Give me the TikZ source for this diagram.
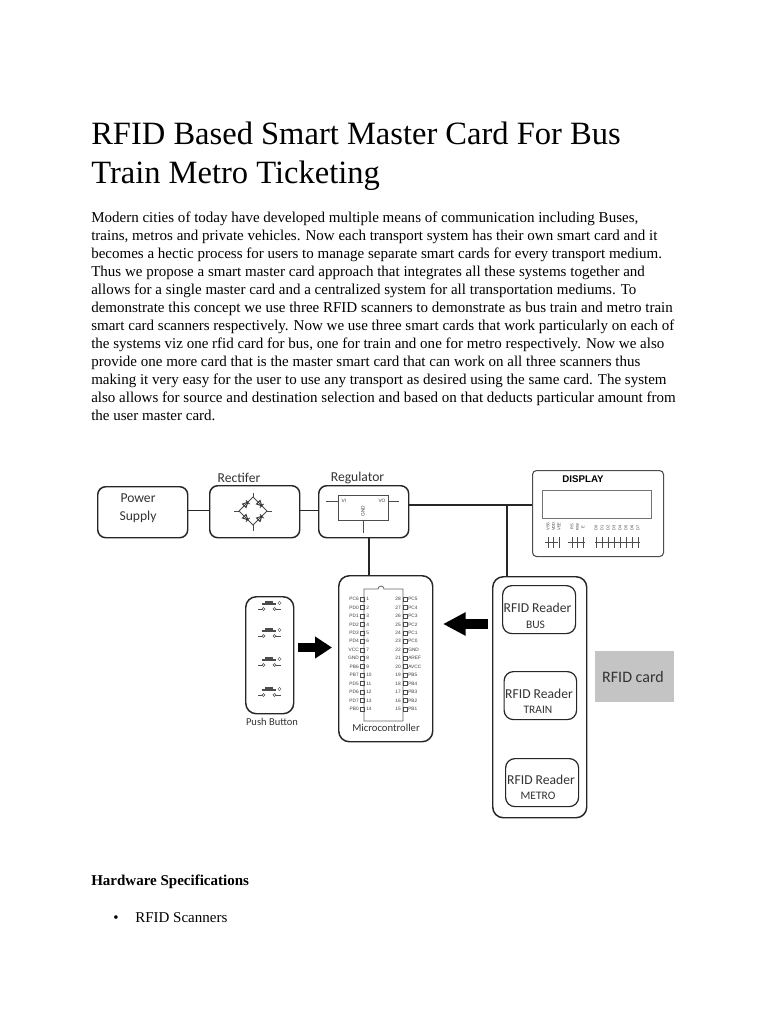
\documentclass[tikz,border=0pt]{standalone}
\usepackage{fontspec}
\setmainfont{Liberation Serif}
\newfontfamily\lab{Carlito}
\newfontfamily\ari{Liberation Sans}
\usetikzlibrary{arrows.meta}
\tikzset{
 x=.75pt,y=-.75pt,
 bodyline/.style={anchor=base west,inner sep=0pt,font=\fontsize{11.26}{13}\selectfont},
 titleline/.style={anchor=base west,inner sep=0pt,font=\fontsize{24.4}{30}\selectfont},
 box/.style={draw=black!85,line width=1.1pt,rounded corners=6pt,inner sep=0pt},
 wire/.style={draw=black!85,line width=1.1pt},
 thin1/.style={draw=black!70,line width=.4pt},
 lbl/.style={font=\lab\fontsize{10.2}{12}\selectfont,text=black!80,inner sep=0pt,align=center},
 sub/.style={font=\lab\fontsize{8.6}{10}\selectfont,text=black!80,inner sep=0pt},
 pin/.style={font=\ari\fontsize{3.6}{4}\selectfont,text=black!75,inner sep=0pt},
 blockarrow/.style={line width=#1*.75pt,-{Triangle[length=17*.75pt,width=21*.75pt]}},
}
\newcommand{\boxat}[6]{\node[box,#6,minimum width=(#4-#2)*.75pt,minimum height=(#5-#3)*.75pt,anchor=north west] (#1) at (#2,#3) {};}
\begin{document}
\begin{tikzpicture}
\useasboundingbox[fill=white] (0,0) rectangle (768,1024);
% page text
\node[titleline] (t1) at (91,144) {RFID Based Smart Master Card For Bus};
\node[titleline] (t2) at (91,183) {Train Metro Ticketing};
\node[bodyline] (b1) at (91,222) {Modern cities of today have developed multiple means of communication including Buses,};
\node[bodyline] (b2) at (91,240) {trains, metros and private vehicles. Now each transport system has their own smart card and it};
\node[bodyline] (b3) at (91,258.5) {becomes a hectic process for users to manage separate smart cards for every transport medium.};
\node[bodyline] (b4) at (91,276.5) {Thus we propose a smart master card approach that integrates all these systems together and};
\node[bodyline] (b5) at (91,294.5) {allows for a single master card and a centralized system for all transportation mediums. To};
\node[bodyline] (b6) at (91,312.5) {demonstrate this concept we use three RFID scanners to demonstrate as bus train and metro train};
\node[bodyline] (b7) at (91,330) {smart card scanners respectively. Now we use three smart cards that work particularly on each of};
\node[bodyline] (b8) at (91,348) {the systems viz one rfid card for bus, one for train and one for metro respectively. Now we also};
\node[bodyline] (b9) at (91,366) {provide one more card that is the master smart card that can work on all three scanners thus};
\node[bodyline] (b10) at (91,384.5) {making it very easy for the user to use any transport as desired using the same card. The system};
\node[bodyline] (b11) at (91,402.5) {also allows for source and destination selection and based on that deducts particular amount from};
\node[bodyline] (b12) at (91,420.5) {the user master card.};
\node[bodyline,font=\fontsize{11.26}{13}\selectfont\bfseries] (h1) at (91,885) {Hardware Specifications};
\node[bodyline] (bu) at (113,922) {•};
\node[bodyline] (s1) at (135,922) {RFID Scanners};
% boxes
\boxat{ps}{97}{486}{187}{537}{}
\boxat{rc}{209}{485}{299}{537}{}
\boxat{rg}{318}{485}{408}{537}{}
\boxat{pb}{245}{596}{293}{713}{rounded corners=8pt}
\boxat{mc}{338}{575}{432}{741}{rounded corners=8pt}
\boxat{rf}{492}{576}{586}{817}{rounded corners=8pt}
\boxat{r1}{502}{585}{575}{633}{rounded corners=7pt,line width=.9pt}
\boxat{r2}{503.5}{671}{576}{719}{rounded corners=7pt,line width=.9pt}
\boxat{r3}{505}{758}{578}{806}{rounded corners=7pt,line width=.9pt}
\boxat{ds}{532}{470}{663}{556}{rounded corners=3pt,line width=.8pt,draw=black!70}
\node[fill=black!23,minimum width=79*.75pt,minimum height=51*.75pt,inner sep=0pt,anchor=north west] (cd) at (594.5,651) {};
\node[lbl,font=\lab\fontsize{12}{14}\selectfont] (cdt) at (633,677) {RFID card};
% labels
\node[lbl] (pst) at (138,508.5) {Power\\[1.5pt]Supply};
\node[lbl] (rct) at (239,478) {Rectifer};
\node[lbl] (rgt) at (357.5,478) {Regulator};
\node[sub,font=\lab\fontsize{7.9}{9}\selectfont] (pbt) at (272,722) {Push Button};
\node[lbl,font=\lab\fontsize{8}{9}\selectfont] (mct) at (386,727.5) {Microcontroller};
\node[lbl] (r1a) at (537.5,607.5) {RFID Reader};
\node[sub] (r1b) at (535.5,624.5) {BUS};
\node[lbl] (r2a) at (539,693.5) {RFID Reader};
\node[sub] (r2b) at (538,709.5) {TRAIN};
\node[lbl] (r3a) at (541,780) {RFID Reader};
\node[sub] (r3b) at (538,795.5) {METRO};
\node[font=\ari\bfseries\fontsize{7.3}{8}\selectfont,inner sep=0pt] (dst) at (583,479.5) {DISPLAY};
% connectors
\draw[wire] (ps.east |- 0,510.5) -- (rc.west |- 0,510.5);
\draw[wire] (rc.east |- 0,510.5) -- (rg.west |- 0,510.5);
\coordinate (j1) at (408,505);
\coordinate (j2) at (532,505);
\coordinate (j3) at (507,505);
\coordinate (j4) at (369,537);
\draw[wire] (j1) -- (j2);
\draw[wire] (j3) -- (j3 |- rf.north);
\draw[wire] (j4) -- (j4 |- mc.north);
\coordinate (a1) at (298,647.5);
\coordinate (a2) at (332,647.5);
\coordinate (a3) at (488,624);
\coordinate (a4) at (443,624);
\draw[blockarrow=9] (a1) -- (a2);
\draw[line width=8.2pt,-{Triangle[length=17pt,width=16.5pt]}] (a3) -- (a4);
% regulator symbol
\draw[thin1,line width=.7pt] (338,495) rectangle (388,520);
\draw[thin1,line width=.7pt] (326,501) -- (338,501) (388,501) -- (399,501) (363,520) -- (363,533);
\node[pin] (rvi) at (344,501) {VI};
\node[pin] (rvo) at (382,501) {VO};
\node[pin,rotate=90] (rgn) at (363,511) {GND};
% bridge
\draw[thin1,line width=.6pt] (253,497) -- (267,511) -- (253,525) -- (239,511) -- cycle;
\draw[thin1,line width=.6pt] (253,493) -- (253,497) (253,525) -- (253,531) (239,511) -- (234,511) (267,511) -- (272,511);
\foreach \cx/\cy/\rr in {246/504/45,260/504/-45,246/518/-45,260/518/45}{
 \draw[draw=black!80,line width=.7pt,rotate around={\rr:(\cx,\cy)}] (\cx-2.5,\cy-2.5) -- (\cx-2.5,\cy+2.5) -- (\cx+2.5,\cy) -- cycle (\cx+2.5,\cy-2.5) -- (\cx+2.5,\cy+2.5);
}
% display inner
\draw[draw=black!55,line width=.7pt] (542,490) rectangle (651,518);
\foreach \i/\t in {0/VSS,1/VDD,2/VEE}{ \node[pin,rotate=90,font=\ari\fontsize{3}{3}\selectfont] (da\i) at (548+\i*5.5,526.5) {\t}; }
\foreach \i/\t in {0/RS,1/RW,2/E}{ \node[pin,rotate=90,font=\ari\fontsize{3}{3}\selectfont] (db\i) at (572+\i*5.5,527) {\t}; }
\foreach \i/\t in {0/D0,1/D1,2/D2,3/D3,4/D4,5/D5,6/D6,7/D7}{ \node[pin,rotate=90,font=\ari\fontsize{3}{3}\selectfont] (dc\i) at (596+\i*6,528) {\t}; }
\draw[thin1] (545,542) -- (558,542) (568,542) -- (585,542) (595,542) -- (640,542);
\foreach \x in {548,553.5,559}{\draw[thin1] (\x,537) -- (\x,548);}
\foreach \x in {572,577.5,583}{\draw[thin1] (\x,537) -- (\x,548);}
\foreach \i in {0,...,7}{\draw[thin1] (596+\i*6,537) -- (596+\i*6,548);}
% IC
\draw[draw=black!60,line width=.6pt] (364,589) -- (378,589) arc[start angle=180,end angle=360,radius=3] -- (403,589) -- (403,721) -- (364,721) -- cycle;
\foreach \n/\l/\r/\a [count=\k from 0] in {1/PC6/PC5/28,2/PD0/PC4/27,3/PD1/PC3/26,4/PD2/PC2/25,5/PD3/PC1/24,6/PD4/PC0/23,7/VCC/GND/22,8/GND/AREF/21,9/PB6/AVCC/20,10/PB7/PB5/19,11/PD5/PB4/18,12/PD6/PB3/17,13/PD7/PB2/16,14/PB0/PB1/15}{
 \pgfmathsetmacro\yy{599+\k*8.46}
 \node[pin,anchor=east] (pl\k) at (359,\yy) {\l};
 \node[pin,anchor=west] (nl\k) at (366,\yy) {\n};
 \node[pin,anchor=east] (nr\k) at (401,\yy) {\a};
 \node[pin,anchor=west] (pr\k) at (408,\yy) {\r};
 \draw[thin1,line width=.3pt] (360,\yy-2) rectangle (364,\yy+2) (403,\yy-2) rectangle (407,\yy+2);
}
% push buttons
\foreach \yy in {608,635,664,694}{
 \draw[thin1,line width=.6pt] (258,\yy+1) -- (262,\yy+1) (276,\yy+1) -- (281,\yy+1);
 \draw[thin1,line width=.5pt] (263.5,\yy+1) circle[radius=1.5] (274.5,\yy+1) circle[radius=1.5];
 \draw[draw=black!70,line width=.8pt] (262,\yy-4) -- (276,\yy-4) (269,\yy-4) -- (269,\yy-7);
 \draw[draw=black!70,line width=1.2pt] (265,\yy-6) -- (273,\yy-6);
 \draw[thin1,line width=.3pt] (279.5,\yy-5) circle[radius=1.7];
}
\end{tikzpicture}
\end{document}
